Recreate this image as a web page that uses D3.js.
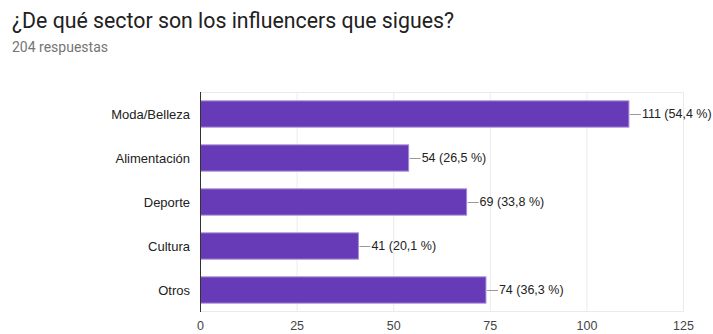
<!DOCTYPE html>
<html>
<head>
<meta charset="utf-8">
<script src="https://cdn.jsdelivr.net/npm/d3@7"></script>
<style>
  body { margin: 0; background: #fff; }
  svg text { font-family: "Liberation Sans", Arial, sans-serif; }
</style>
</head>
<body>
<div id="chart"></div>
<script>
var categories = ["Moda/Belleza", "Alimentación", "Deporte", "Cultura", "Otros"];
var counts = [111, 54, 69, 41, 74];
var percents = ["54,4", "26,5", "33,8", "20,1", "36,3"];
var xTicks = [0, 25, 50, 75, 100, 125];

var data = categories.map(function(c, i) {
  return {name: c, value: counts[i], pct: percents[i]};
});

var svg = d3.select("#chart").append("svg")
    .attr("width", 713)
    .attr("height", 334);

svg.append("text")
    .attr("x", 12)
    .attr("y", 28)
    .style("font-family", "Roboto, sans-serif")
    .style("font-size", "21.3px")
    .attr("fill", "#212121")
    .text("¿De qué sector son los influencers que sigues?");

svg.append("text")
    .attr("x", 12)
    .attr("y", 52)
    .style("font-family", "Roboto, sans-serif")
    .style("font-size", "14px")
    .attr("fill", "#757575")
    .text("204 respuestas");

var margin = {top: 92, left: 200},
    width = 483,
    height = 220;

var g = svg.append("g")
    .attr("transform", "translate(" + margin.left + "," + margin.top + ")");

var x = d3.scaleLinear().domain([0, 125]).range([0, width]);
var y = d3.scaleBand().domain(categories).range([0, height]).paddingInner(0.38).paddingOuter(0.19);

// gridlines
g.selectAll(".grid")
    .data(xTicks.slice(1))
  .enter().append("line")
    .attr("x1", function(d) { return x(d) + 0.5; })
    .attr("x2", function(d) { return x(d) + 0.5; })
    .attr("y1", 0)
    .attr("y2", height)
    .attr("stroke", "#ebebeb");

g.append("line")
    .attr("x1", 0).attr("x2", width)
    .attr("y1", 0.5).attr("y2", 0.5)
    .attr("stroke", "#ebebeb");
g.append("line")
    .attr("x1", 0).attr("x2", width)
    .attr("y1", height - 0.5).attr("y2", height - 0.5)
    .attr("stroke", "#ebebeb");

// bars
g.selectAll(".bar")
    .data(data)
  .enter().append("rect")
    .attr("x", 0.5)
    .attr("y", function(d) { return y(d.name) + 0.5; })
    .attr("width", function(d) { return x(d.value) - 0.5; })
    .attr("height", y.bandwidth() - 1)
    .attr("fill", "#673ab7")
    .attr("stroke", "#a48bd6")
    .attr("stroke-width", 1);

// leader lines + labels
g.selectAll(".lead")
    .data(data)
  .enter().append("line")
    .attr("x1", function(d) { return x(d.value) + 1; })
    .attr("x2", function(d) { return x(d.value) + 12; })
    .attr("y1", function(d) { return Math.round(y(d.name) + y.bandwidth() / 2) + 0.5; })
    .attr("y2", function(d) { return Math.round(y(d.name) + y.bandwidth() / 2) + 0.5; })
    .attr("stroke", "#999");

g.selectAll(".lbl")
    .data(data)
  .enter().append("text")
    .attr("x", function(d) { return x(d.value) + 13; })
    .attr("y", function(d) { return y(d.name) + y.bandwidth() / 2; })
    .attr("dy", "0.35em")
    .style("font-size", "12.5px")
    .attr("fill", "#222")
    .text(function(d) { return d.value + " (" + d.pct + " %)"; });

// category labels
g.selectAll(".cat")
    .data(data)
  .enter().append("text")
    .attr("x", -10)
    .attr("y", function(d) { return y(d.name) + y.bandwidth() / 2; })
    .attr("dy", "0.35em")
    .attr("text-anchor", "end")
    .style("font-size", "13px")
    .attr("fill", "#222")
    .text(function(d) { return d.name; });

// left axis line
g.append("line")
    .attr("x1", 0.5).attr("x2", 0.5)
    .attr("y1", 0).attr("y2", height)
    .attr("stroke", "#333");

// x tick labels
var xAxis = g.append("g")
    .attr("transform", "translate(0," + height + ")")
    .call(d3.axisBottom(x).tickValues(xTicks).tickSize(0).tickPadding(9));
xAxis.select(".domain").remove();
xAxis.selectAll("text")
    .style("font-family", "'Liberation Sans', Arial, sans-serif")
    .style("font-size", "12.5px")
    .attr("fill", "#444");
</script>
</body>
</html>
